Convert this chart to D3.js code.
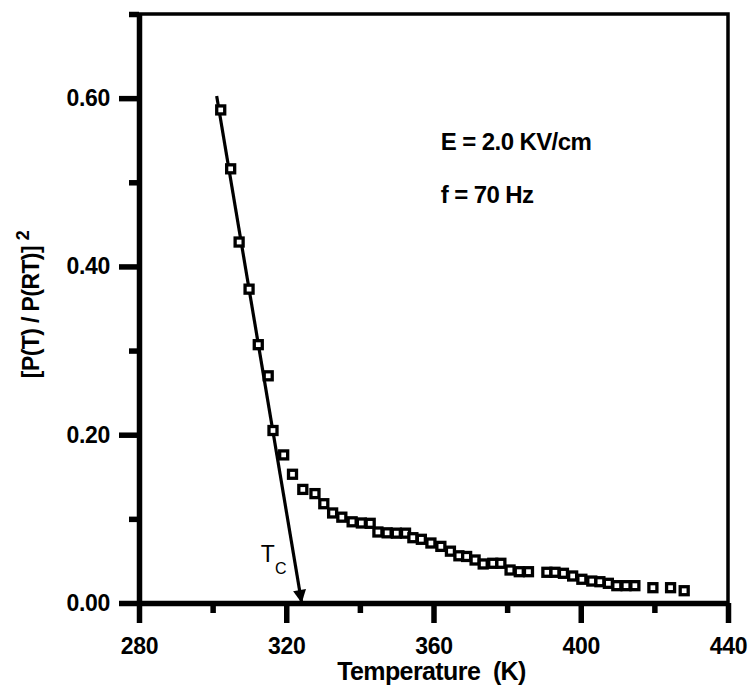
<!DOCTYPE html>
<html>
<head>
<meta charset="utf-8">
<script src="https://cdn.jsdelivr.net/npm/d3@7"></script>
<style>
  body { margin: 0; background: #fff; }
  svg text { font-family: "Liberation Sans", Arial, sans-serif; }
</style>
</head>
<body>
<div id="chart"></div>
<script>
// data
const temps = [302.2, 304.9, 307.2, 309.9, 312.4, 315.1, 316.4, 319.3, 321.7, 324.5,
  327.8, 330.2, 332.6, 335.1, 337.9, 340.4, 342.8, 344.9, 347.4, 349.9,
  352.4, 354.4, 356.7, 359.3, 362.0, 364.6, 366.9, 369.0, 371.3, 373.5,
  376.1, 378.3, 380.8, 383.3, 385.8, 390.8, 393.0, 395.3, 397.8, 400.3,
  403.0, 405.2, 407.5, 409.8, 412.3, 414.7, 419.6, 424.4, 428.1];
const ratio = [0.586, 0.516, 0.429, 0.373, 0.307, 0.270, 0.205, 0.176, 0.153, 0.135,
  0.130, 0.118, 0.107, 0.102, 0.0965, 0.0951, 0.0947, 0.0844, 0.0834, 0.0830,
  0.0830, 0.0776, 0.0757, 0.0713, 0.0673, 0.0616, 0.0561, 0.0553, 0.0511, 0.0464,
  0.0472, 0.0472, 0.0392, 0.0372, 0.0372, 0.0365, 0.0365, 0.0353, 0.0321, 0.0282,
  0.0261, 0.0253, 0.0234, 0.0206, 0.0206, 0.0206, 0.0182, 0.0182, 0.0146];

// linear fit down to Tc
const fitT = [301.1, 324.2];
const fitV = [0.6026, 0];

const xMajor = [280, 320, 360, 400, 440];
const xMinor = [300, 340, 380, 420];
const yMajor = [0, 0.2, 0.4, 0.6];
const yMinor = [0.1, 0.3, 0.5, 0.7];

const notes = ["E = 2.0 KV/cm", "f = 70 Hz"];

const W = 750, H = 687;
const margin = {top: 14, right: 22, bottom: 84, left: 139};
const width = W - margin.left - margin.right,
      height = H - margin.top - margin.bottom;
const lw = 5.5; // axis line width

const svg = d3.select("#chart").append("svg")
  .attr("width", W).attr("height", H);

const g = svg.append("g")
  .attr("transform", `translate(${margin.left}, ${margin.top})`);

const x = d3.scaleLinear().domain([280, 440]).range([0, width]);
const y = d3.scaleLinear().domain([0, 0.7]).range([height, 0]);

// frame (top + right)
g.append("path")
  .attr("d", `M0,0H${width}V${height}`)
  .style("fill", "none").style("stroke", "#000").style("stroke-width", "3.5px");

// axes
function styleAxis(sel){
  sel.selectAll("path, line").style("stroke", "#000").style("stroke-width", lw + "px");
  sel.selectAll(".tick text")
    .style("font-size", "23px").style("font-weight", "bold")
    .style("letter-spacing", "-0.3px").style("fill", "#000");
}

const xAx = g.append("g").attr("transform", `translate(0, ${height})`)
  .call(d3.axisBottom(x).tickValues(xMajor).tickSize(20).tickPadding(15).tickSizeOuter(0).tickFormat(d3.format("d")));
styleAxis(xAx);
g.append("g").attr("transform", `translate(0, ${height})`)
  .call(d3.axisBottom(x).tickValues(xMinor).tickSize(10).tickFormat(""))
  .call(s => { s.select(".domain").remove(); styleAxis(s); });

const yAx = g.append("g")
  .call(d3.axisLeft(y).tickValues(yMajor).tickSize(20).tickPadding(9).tickSizeOuter(0).tickFormat(d3.format(".2f")));
styleAxis(yAx);
g.append("g")
  .call(d3.axisLeft(y).tickValues(yMinor).tickSize(10).tickFormat(""))
  .call(s => { s.select(".domain").remove(); styleAxis(s); });

// axis titles
g.append("text")
  .attr("x", width / 2 - 2).attr("y", height + 77)
  .attr("text-anchor", "middle")
  .style("font-size", "25px").style("font-weight", "bold").style("letter-spacing", "-0.6px")
  .style("white-space", "pre")
  .text("Temperature  (K)");

const yt = svg.append("text")
  .attr("transform", `translate(39, ${margin.top + height / 2 - 4}) rotate(-90)`)
  .attr("text-anchor", "middle")
  .style("font-size", "23px").style("font-weight", "bold").style("letter-spacing", "-0.6px");
yt.append("tspan").text("[P(T) / P(RT)] ");
yt.append("tspan").attr("dy", -10).style("font-size", "18px").text("2");

// fit line with arrow
svg.append("defs").append("marker")
  .attr("id", "arr").attr("viewBox", "0 0 10 10")
  .attr("refX", 10).attr("refY", 5)
  .attr("markerUnits", "userSpaceOnUse")
  .attr("markerWidth", 14).attr("markerHeight", 13)
  .attr("orient", "auto")
  .append("path").attr("d", "M0,0L10,5L0,10Z").attr("fill", "#000");

const fitPts = fitT.map((t, i) => [x(t), y(fitV[i])]);
g.append("path")
  .attr("d", d3.line()(fitPts))
  .style("fill", "none").style("stroke", "#000").style("stroke-width", "3.2px")
  .attr("marker-end", "url(#arr)");

// data squares
g.append("g").selectAll("rect")
  .data(temps.map((t, i) => [t, ratio[i]]))
  .join("rect")
  .attr("x", d => x(d[0]) - 4)
  .attr("y", d => y(d[1]) - 4)
  .attr("width", 8).attr("height", 8)
  .style("fill", "#fff").style("stroke", "#000").style("stroke-width", "3.3px");

// annotations
g.selectAll(".note").data(notes).join("text")
  .attr("class", "note")
  .attr("x", x(362)).attr("y", (d, i) => 136 + i * 53)
  .style("font-size", "24px").style("font-weight", "bold").style("letter-spacing", "-0.6px")
  .text(d => d);

// T_c label
const tc = g.append("text")
  .attr("x", x(313.1)).attr("y", y(0.049))
  .style("font-size", "23px");
tc.append("tspan").text("T");
tc.append("tspan").attr("dy", 12).style("font-size", "16px").text("C");
</script>
</body>
</html>
